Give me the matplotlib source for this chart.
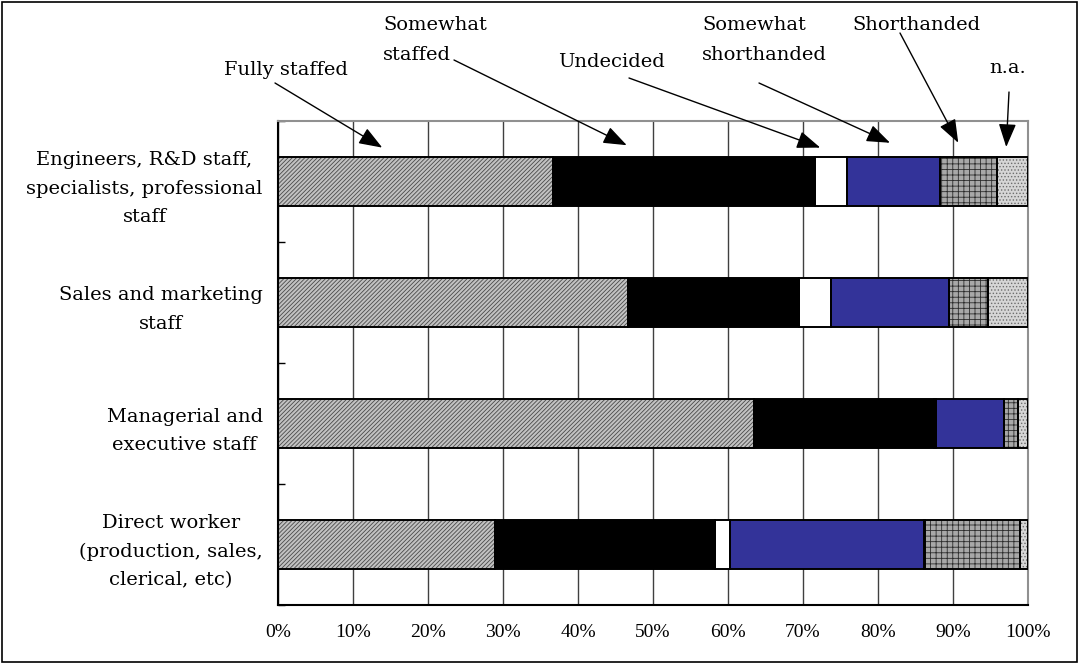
import matplotlib
matplotlib.use("Agg")
import matplotlib.pyplot as plt
from matplotlib.patches import Rectangle
import numpy as np

# Staffing situation by job category (% of respondents)
categories = [
    "Engineers, R&D staff,\nspecialists, professional\nstaff",
    "Sales and marketing\nstaff",
    "Managerial and\nexecutive staff",
    "Direct worker\n(production, sales,\nclerical, etc)",
]
series_names = ["Fully staffed", "Somewhat staffed", "Undecided",
                "Somewhat shorthanded", "Shorthanded", "n.a."]
fully_staffed = [36.6, 46.7, 63.4, 28.9]
somewhat_staffed = [35.0, 22.8, 24.1, 29.4]
undecided = [4.2, 4.2, 0.2, 2.0]
somewhat_shorthanded = [12.4, 15.7, 9.1, 25.9]
shorthanded = [7.6, 5.3, 1.8, 12.8]
not_available = [4.2, 5.3, 1.4, 1.0]
x_tick_labels = ["0%", "10%", "20%", "30%", "40%", "50%",
                 "60%", "70%", "80%", "90%", "100%"]

series = [fully_staffed, somewhat_staffed, undecided,
          somewhat_shorthanded, shorthanded, not_available]
# (face colour, hatch, hatch colour)
styles = [
    ("#c2c2c2", "////////", "#4a4a4a"),
    ("#000000", None, "#000000"),
    ("#ffffff", None, "#000000"),
    ("#333399", None, "#333399"),
    ("#a8a8a8", "+++", "#2c2c2c"),
    ("#d6d6d6", ".....", "#6e6e6e"),
]

W, H = 1078, 663
fig = plt.figure(figsize=(W / 100, H / 100), dpi=100)
plt.rcParams["hatch.linewidth"] = 0.6
serif = "DejaVu Serif"
fs = 14

ax = fig.add_axes([278 / W, 58 / H, 750 / W, 484 / H])
y = np.arange(len(categories))
left = np.zeros(len(categories))
for vals, (fc, hatch, hc) in zip(series, styles):
    vals = np.asarray(vals)
    ax.barh(y, vals, left=left, height=0.4, color=fc, hatch=hatch,
            edgecolor=hc, linewidth=0, zorder=2)
    ax.barh(y, vals, left=left, height=0.4, fill=False,
            edgecolor="black", linewidth=1.4, zorder=3)
    left += vals

ax.set_xlim(0, 100)
ax.set_ylim(len(categories) - 0.5, -0.5)
ax.set_xticks(np.arange(0, 101, 10))
ax.set_xticklabels(x_tick_labels, fontfamily="Liberation Serif", fontsize=14)
ax.tick_params(axis="x", length=0, pad=14)
ax.set_yticks(y)
ax.set_yticklabels(categories, fontfamily=serif, fontsize=fs,
                   ma="center", linespacing=1.75)
ax.tick_params(axis="y", which="major", length=0, pad=11)
ax.set_yticks(np.arange(-0.5, len(categories)), minor=True)
ax.tick_params(axis="y", which="minor", direction="in", length=5,
               width=1, color="black")

ax.grid(axis="x", color="#404040", linewidth=1, zorder=1)
ax.set_axisbelow(True)
for side in ("left", "bottom"):
    ax.spines[side].set_linewidth(1.5)
    ax.spines[side].set_color("black")
for side in ("top", "right"):
    ax.spines[side].set_linewidth(1.5)
    ax.spines[side].set_color("#909090")


def fpx(px, py):
    return (px / W, 1 - py / H)


# Labels and pointer arrows for each response category
labels = [
    ("Fully staffed", (286, 70), "center", (275, 83), 13.9, -0.28),
    ("Somewhat\nstaffed", (383, 40), "left", (454, 60), 46.5, -0.30),
    ("Undecided", (611, 62), "center", (629, 78), 72.3, -0.28),
    ("Somewhat\nshorthanded", (702, 40), "left", (759, 83), 81.6, -0.32),
    ("Shorthanded", (852, 25), "left", (900, 33), 90.7, -0.32),
    ("n.a.", (1008, 68), "center", (1009, 92), 97.1, -0.285),
]
for text, tpos, ha, tail, tx, ty in labels:
    fig.text(*fpx(*tpos), text, ha=ha, va="center", fontfamily=serif,
             fontsize=fs, linespacing=1.8)
    ax.annotate("", xy=(tx, ty), xycoords="data",
                xytext=fpx(*tail), textcoords="figure fraction",
                arrowprops=dict(arrowstyle="-|>,head_length=1.2,head_width=0.45",
                                mutation_scale=12, color="black", lw=1,
                                shrinkA=0, shrinkB=0),
                annotation_clip=False)

fig.add_artist(Rectangle((1.5 / W, 1.5 / H), (W - 3) / W, (H - 3) / H,
                         transform=fig.transFigure, fill=False,
                         edgecolor="black", linewidth=1.2))

fig.savefig("out.png", dpi=100)
